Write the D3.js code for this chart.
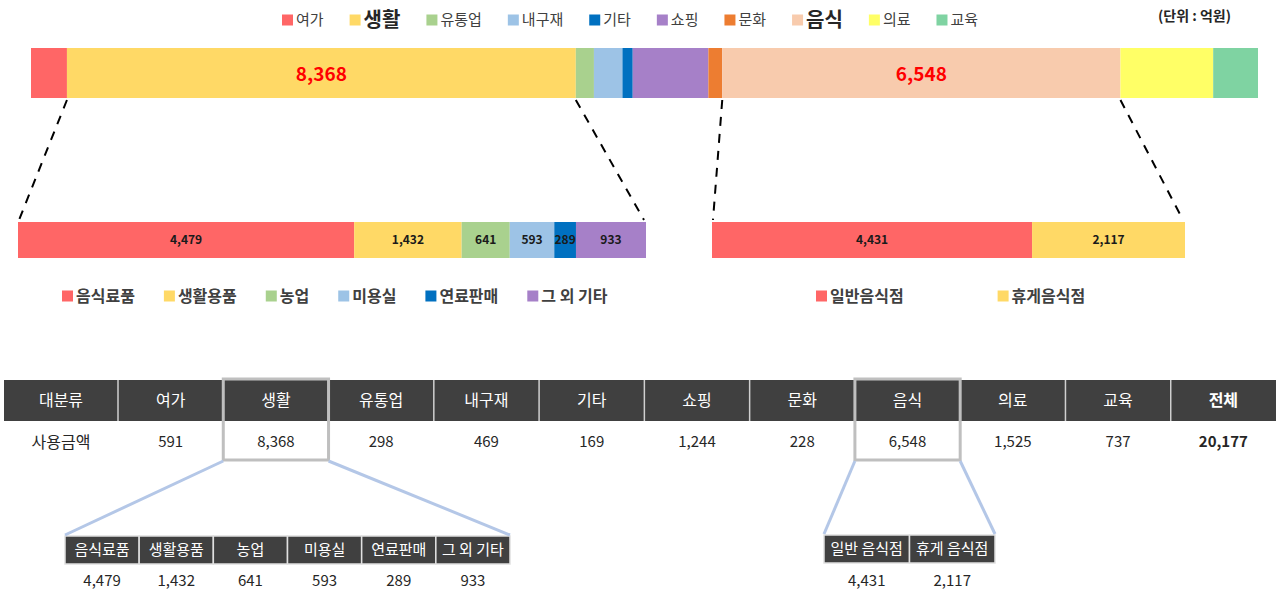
<!DOCTYPE html>
<html>
<head>
<meta charset="utf-8">
<script src="https://cdn.jsdelivr.net/npm/d3@7"></script>
<style>
  body{margin:0;background:#fff;}
  text{font-family:"Noto Sans CJK KR","Noto Sans",sans-serif;}
</style>
</head>
<body>
<svg id="chart" width="1280" height="598"></svg>
<script>
  // main categories (unit: 억원)
  var categories = ['여가','생활','유통업','내구재','기타','쇼핑','문화','음식','의료','교육'];
  var amounts    = [591, 8368, 298, 469, 169, 1244, 228, 6548, 1525, 737];
  var catColors  = ['#ff6666','#ffd966','#a9d18e','#9dc3e6','#0070c0','#a680c8','#ed7d31','#f8cbad','#ffff66','#7fd3a2'];
  var bigCats    = ['생활','음식'];

  // breakdown of 생활
  var lifeItems  = ['음식료품','생활용품','농업','미용실','연료판매','그 외 기타'];
  var lifeValues = [4479, 1432, 641, 593, 289, 933];
  var lifeColors = ['#ff6666','#ffd966','#a9d18e','#9dc3e6','#0070c0','#a680c8'];

  // breakdown of 음식
  var foodItems      = ['일반음식점','휴게음식점'];
  var foodTableItems = ['일반 음식점','휴게 음식점'];
  var foodValues     = [4431, 2117];
  var foodColors     = ['#ff6666','#ffd966'];

  var rowHeads  = ['대분류','사용금액'];
  var totalHead = '전체';
  var unitLabel = '(단위 : 억원)';

  var fmt = d3.format(',');
  var svg = d3.select('#chart');
  var narrow = '"Liberation Sans Narrow","Noto Sans CJK KR",sans-serif';

  function stack(values){
    var c = d3.cumsum(values);
    return values.map(function(v,i){ return {v:v, i:i, x0:c[i]-v, x1:c[i]}; });
  }

  //Legend laid out left to right
  function legend(items, colors, x0, y, gap, size, weight, bigList){
    var g = svg.append('g');
    var x = x0;
    items.forEach(function(d,i){
      var big = bigList && bigList.indexOf(d) >= 0;
      g.append('rect').attr('x', x).attr('y', y-5.5).attr('width', 11).attr('height', 11).attr('fill', colors[i]);
      var t = g.append('text').attr('x', x+14).attr('y', y).attr('dy','0.35em')
        .attr('font-size', big ? 20 : size).attr('font-weight', big ? 'bold' : weight)
        .attr('fill', big ? '#262626' : '#404040').text(d);
      x += 14 + t.node().getComputedTextLength() + gap;
    });
  }

  //---- top legend
  legend(categories, catColors, 282, 20, 26, 15, 'normal', bigCats);
  svg.append('text').attr('x', 1158).attr('y', 16).attr('dy','0.35em')
    .attr('font-size', 14).attr('font-weight','bold').attr('fill','#262626').text(unitLabel);

  //---- top stacked bar
  var xTop = d3.scaleLinear().domain([0, d3.sum(amounts)]).range([31, 1258]);
  var topData = stack(amounts);
  svg.append('g').selectAll('rect').data(topData).enter().append('rect')
    .attr('x', function(d){ return xTop(d.x0); })
    .attr('y', 48)
    .attr('width', function(d){ return xTop(d.x1) - xTop(d.x0); })
    .attr('height', 50)
    .attr('fill', function(d){ return catColors[d.i]; });

  svg.append('g').selectAll('text').data(topData.filter(function(d){ return bigCats.indexOf(categories[d.i]) >= 0; }))
    .enter().append('text')
    .attr('x', function(d){ return (xTop(d.x0) + xTop(d.x1)) / 2; })
    .attr('y', 74).attr('dy','0.35em').attr('text-anchor','middle')
    .attr('font-family', narrow).attr('font-size', 19).attr('font-weight','bold').attr('fill','#ff0000')
    .text(function(d){ return fmt(d.v); });

  //---- breakdown bars
  var xLife = d3.scaleLinear().domain([0, d3.sum(lifeValues)]).range([18, 646]);
  var xFood = d3.scaleLinear().domain([0, d3.sum(foodValues)]).range([712, 1185]);

  function subBar(values, colors, x){
    var g = svg.append('g');
    var data = stack(values);
    g.selectAll('rect').data(data).enter().append('rect')
      .attr('x', function(d){ return x(d.x0); })
      .attr('y', 222)
      .attr('width', function(d){ return x(d.x1) - x(d.x0); })
      .attr('height', 36)
      .attr('fill', function(d){ return colors[d.i]; });
    g.selectAll('text').data(data).enter().append('text')
      .attr('x', function(d){ return (x(d.x0) + x(d.x1)) / 2; })
      .attr('y', 240).attr('dy','0.35em').attr('text-anchor','middle')
      .attr('font-family', narrow).attr('font-size', 12).attr('font-weight','bold').attr('fill','#1a1a1a')
      .text(function(d){ return fmt(d.v); });
  }
  subBar(lifeValues, lifeColors, xLife);
  subBar(foodValues, foodColors, xFood);

  //Dashed guides from the selected segments to their breakdown
  function guides(cat, x){
    var d = topData[categories.indexOf(cat)];
    var r = x.range();
    [[xTop(d.x0), r[0]+1], [xTop(d.x1), r[1]-2]].forEach(function(p){
      svg.append('line').attr('x1', p[0]).attr('y1', 100).attr('x2', p[1]).attr('y2', 220)
        .attr('stroke','#000').attr('stroke-width', 2).attr('stroke-dasharray','9,8');
    });
  }
  guides('생활', xLife);
  guides('음식', xFood);

  legend(lifeItems, lifeColors, 62, 296, 29, 16, 'bold');
  legend(foodItems, foodColors, 816, 296, 94, 16, 'bold');

  //---- summary table
  var heads = categories.concat([totalHead]);
  var vals  = amounts.concat([d3.sum(amounts)]);
  var col = d3.scaleBand().domain(heads).range([118, 1276]);
  var tHeadY = 380, tHeadH = 41, tRowY = 421;

  svg.append('rect').attr('x', 4).attr('y', tHeadY).attr('width', 1272).attr('height', tHeadH).attr('fill','#404040');
  svg.append('g').selectAll('line').data(heads).enter().append('line')
    .attr('x1', function(d){ return col(d); }).attr('x2', function(d){ return col(d); })
    .attr('y1', tHeadY).attr('y2', tHeadY + tHeadH)
    .attr('stroke','#d0d0d0').attr('stroke-width', 1.5);

  svg.append('text').attr('x', 61).attr('y', tHeadY + tHeadH/2).attr('dy','0.35em').attr('text-anchor','middle')
    .attr('font-size', 16).attr('fill','#fff').text(rowHeads[0]);
  svg.append('text').attr('x', 61).attr('y', 442).attr('dy','0.35em').attr('text-anchor','middle')
    .attr('font-size', 16).attr('fill','#262626').text(rowHeads[1]);

  svg.append('g').selectAll('text').data(heads).enter().append('text')
    .attr('x', function(d){ return col(d) + col.bandwidth()/2; })
    .attr('y', tHeadY + tHeadH/2).attr('dy','0.35em').attr('text-anchor','middle')
    .attr('font-size', 16).attr('font-weight', function(d){ return d === totalHead ? 'bold' : 'normal'; })
    .attr('fill','#fff').text(function(d){ return d; });

  svg.append('g').selectAll('text').data(vals).enter().append('text')
    .attr('x', function(d,i){ return col(heads[i]) + col.bandwidth()/2; })
    .attr('y', 442).attr('dy','0.35em').attr('text-anchor','middle')
    .attr('font-size', 15).attr('font-weight', function(d,i){ return heads[i] === totalHead ? 'bold' : 'normal'; })
    .attr('fill','#262626').text(function(d){ return fmt(d); });

  //Highlight boxes on the expanded columns
  bigCats.forEach(function(c){
    svg.append('rect').attr('x', col(c)).attr('y', tHeadY - 1)
      .attr('width', col.bandwidth()).attr('height', 81)
      .attr('fill','none').attr('stroke','#bfbfbf').attr('stroke-width', 3);
  });

  //---- small detail tables
  function subTable(items, values, range, headY){
    var b = d3.scaleBand().domain(items).range(range);
    var g = svg.append('g');
    g.selectAll('rect').data(items).enter().append('rect')
      .attr('x', function(d){ return b(d); }).attr('y', headY)
      .attr('width', b.bandwidth()).attr('height', 28)
      .attr('fill','#404040').attr('stroke','#e0e0e0').attr('stroke-width', 1.5);
    g.selectAll('text.h').data(items).enter().append('text').attr('class','h')
      .attr('x', function(d){ return b(d) + b.bandwidth()/2; })
      .attr('y', headY + 14).attr('dy','0.35em').attr('text-anchor','middle')
      .attr('font-size', 15).attr('fill','#fff').text(function(d){ return d; });
    g.selectAll('text.v').data(values).enter().append('text').attr('class','v')
      .attr('x', function(d,i){ return b(items[i]) + b.bandwidth()/2; })
      .attr('y', 581).attr('dy','0.35em').attr('text-anchor','middle')
      .attr('font-size', 15).attr('fill','#262626').text(function(d){ return fmt(d); });
    return b;
  }
  var lifeTable = subTable(lifeItems, lifeValues, [65, 510], 536);
  var foodTable = subTable(foodTableItems, foodValues, [824, 995], 535);

  //Blue connectors from highlight box to detail table
  function connectors(cat, b, headY){
    var r = b.range();
    [[col(cat), r[0]], [col(cat) + col.bandwidth(), r[1]]].forEach(function(p){
      svg.append('line').attr('x1', p[0]).attr('y1', 461).attr('x2', p[1]).attr('y2', headY - 1)
        .attr('stroke','#b4c7e7').attr('stroke-width', 3);
    });
  }
  connectors('생활', lifeTable, 536);
  connectors('음식', foodTable, 535);
</script>
</body>
</html>
